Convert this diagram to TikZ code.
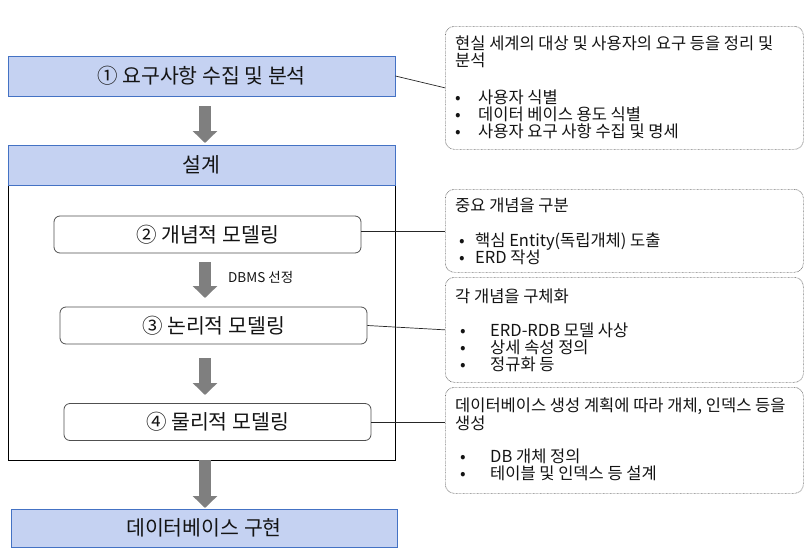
\documentclass[tikz,border=0pt]{standalone}
\usepackage{fontspec}
\setmainfont{Noto Sans CJK KR}
\usetikzlibrary{arrows.meta,calc}
\definecolor{bluefill}{RGB}{197,210,242}
\definecolor{blueline}{RGB}{68,114,196}
\definecolor{arrowgray}{RGB}{127,127,127}
\definecolor{boxgray}{RGB}{80,80,80}
\definecolor{dotgray}{RGB}{120,120,120}
\definecolor{txt}{RGB}{20,20,20}
\begin{document}
\begin{tikzpicture}[x=1pt,y=-1pt,
  bluebox/.style={draw=blueline, fill=bluefill, line width=0.8pt, minimum width=387pt, minimum height=40pt, inner sep=0pt, font=\fontsize{20.5}{24}\selectfont, text=txt},
  outerbox/.style={draw=black, line width=0.8pt, inner sep=0pt},
  stepbox/.style={draw=boxgray, fill=white, line width=0.8pt, rounded corners=6pt, minimum width=307pt, minimum height=37pt, inner sep=0pt, font=\fontsize{20.5}{24}\selectfont, text=txt},
  infobox/.style={draw=dotgray, line width=0.7pt, dash pattern=on 0.7pt off 0.7pt, rounded corners=9pt, minimum width=358pt, inner sep=0pt, anchor=north west},
  infotext/.style={anchor=base west, inner sep=0pt, font=\fontsize{16.5}{17}\selectfont, text=txt},
  smalltext/.style={anchor=west, inner sep=0pt, font=\fontsize{13.5}{15}\selectfont, text=txt},
  conn/.style={draw=black!85, line width=0.7pt},
  blockarrow/.style={draw=arrowgray, line width=12pt, -{Triangle[width=24pt,length=12pt]}}
]
\useasboundingbox (0,0) rectangle (811,554);

% left column
\node[bluebox] (p1) at (201.5,76) {① 요구사항 수집 및 분석};
\node[outerbox, minimum width=387pt, minimum height=275pt] (outer) at (201.5,322.5) {};
\node[bluebox] (hd) at (201.5,165) {설계};
\node[stepbox] (p2) at (207.5,234.5) {② 개념적 모델링};
\node[stepbox] (p3) at (213.5,325.5) {③ 논리적 모델링};
\node[stepbox] (p4) at (217.5,422) {④ 물리적 모델링};
\node[bluebox, minimum width=386pt, minimum height=38pt] (p5) at (204,528) {데이터베이스 구현};
\node[smalltext] (dbms) at (228,277) {DBMS 선정};

% block arrows
\coordinate (a1s) at (205,106); \coordinate (a1e) at (205,143);
\coordinate (a2s) at (205,262); \coordinate (a2e) at (205,298);
\coordinate (a3s) at (205,358); \coordinate (a3e) at (205,395);
\coordinate (a4s) at (205,460); \coordinate (a4e) at (205,508);
\draw[blockarrow] (a1s) -- (a1e);
\draw[blockarrow] (a2s) -- (a2e);
\draw[blockarrow] (a3s) -- (a3e);
\draw[blockarrow] (a4s) -- (a4e);

% right boxes
\node[infobox, minimum height=123pt] (A) at (445,26) {};
\node[infobox, minimum height=83pt] (B) at (445,189) {};
\node[infobox, minimum height=105pt] (C) at (445,277) {};
\node[infobox, minimum height=106pt] (D) at (445,387) {};

\node[infotext] (a1) at (455,49) {현실 세계의 대상 및 사용자의 요구 등을 정리 및};
\node[infotext] (a2) at (455,66) {분석};
\node[infotext] (a3) at (455,103) {\makebox[23pt][l]{•}사용자 식별};
\node[infotext] (a4) at (455,120) {\makebox[23pt][l]{•}데이터 베이스 용도 식별};
\node[infotext] (a5) at (455,137) {\makebox[23pt][l]{•}사용자 요구 사항 수집 및 명세};

\node[infotext] (b1) at (455,211) {중요 개념을 구분};
\node[infotext] (b2) at (459,246) {\makebox[16pt][l]{•}핵심 Entity(독립개체) 도출};
\node[infotext] (b3) at (459,263) {\makebox[16pt][l]{•}ERD 작성};

\node[infotext] (c1) at (455,302) {각 개념을 구체화};
\node[infotext] (c2) at (460,336) {\makebox[30pt][l]{•}ERD-RDB 모델 사상};
\node[infotext] (c3) at (460,353) {\makebox[30pt][l]{•}상세 속성 정의};
\node[infotext] (c4) at (460,370) {\makebox[30pt][l]{•}정규화 등};

\node[infotext] (d1) at (455,411) {데이터베이스 생성 계획에 따라 개체, 인덱스 등을};
\node[infotext] (d2) at (455,429) {생성};
\node[infotext] (d3) at (460,462) {\makebox[30pt][l]{•}DB 개체 정의};
\node[infotext] (d4) at (460,479) {\makebox[30pt][l]{•}테이블 및 인덱스 등 설계};

% connectors
\draw[conn] (p1.east) -- (A.west);
\draw[conn] (p2.east |- B.west) -- (B.west);
\draw[conn] (p3.east) -- (C.west);
\draw[conn] (p4.east) -- (D.west |- p4.east);
\end{tikzpicture}
\end{document}
